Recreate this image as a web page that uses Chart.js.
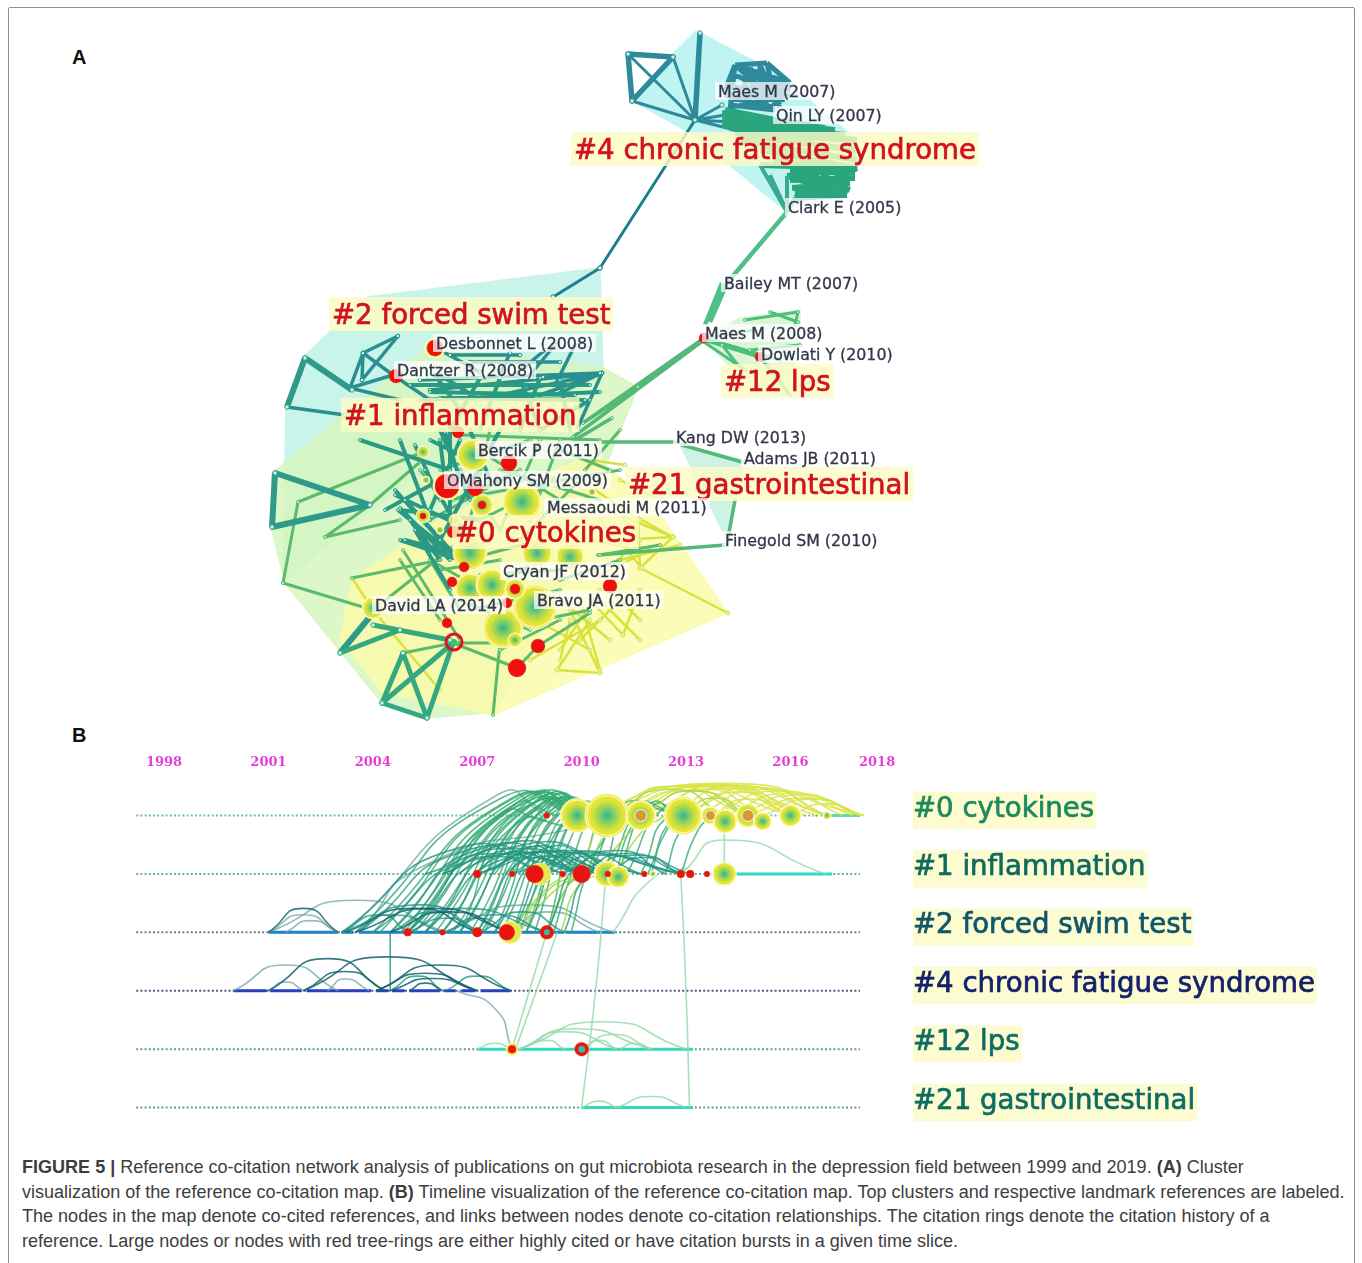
<!DOCTYPE html>
<html>
<head>
<meta charset="utf-8">
<title>Figure 5</title>
<script src="https://cdn.jsdelivr.net/npm/chart.js@4"></script>
<style>
  html, body { margin: 0; padding: 0; background: #fff; }
  body { position: relative; width: 1362px; height: 1263px; overflow: hidden; font-family: "Liberation Sans", Arial, sans-serif; }
  #frame { position: absolute; left: 8px; top: 7px; width: 1345px; height: 1270px; border: 1px solid #8f8f8f; border-radius: 2px; }
  canvas { position: absolute; filter: blur(0.45px); }
  #mapCanvas { left: 130px; top: 20px; }
  #timelineCanvas { left: 100px; top: 745px; }
  .panel { position: absolute; left: 72px; font-weight: bold; font-size: 20px; color: #111; }
  #caption { position: absolute; left: 22px; top: 1155px; width: 1325px; font-size: 18.05px; line-height: 24.7px; color: #3d3d3d; white-space: nowrap; }
</style>
</head>
<body>
<div id="frame"></div>
<div class="panel" style="top:46px">A</div>
<div class="panel" style="top:724px">B</div>
<canvas id="mapCanvas" width="1000" height="705"></canvas>
<canvas id="timelineCanvas" width="1240" height="390"></canvas>
<div id="caption"><b>FIGURE 5 |</b> Reference co-citation network analysis of publications on gut microbiota research in the depression field between 1999 and 2019. <b>(A)</b> Cluster<br>visualization of the reference co-citation map. <b>(B)</b> Timeline visualization of the reference co-citation map. Top clusters and respective landmark references are labeled.<br>The nodes in the map denote co-cited references, and links between nodes denote co-citation relationships. The citation rings denote the citation history of a<br>reference. Large nodes or nodes with red tree-rings are either highly cited or have citation bursts in a given time slice.</div>

<script>
// ---- Panel A: cluster map ----

// Cluster hulls
const hullCluster2 = [[600,268],[368,297],[303,357],[286,405],[283,582],[410,480],[603,375]];
const hullCluster1 = [[638,387],[603,368],[430,345],[272,473],[271,527],[285,583],[382,703],[427,718],[495,712],[560,600],[600,480]];
const hullCluster0 = [[352,580],[340,640],[383,692],[493,715],[728,613],[650,500],[590,455],[440,520]];
const hullCluster4 = [[696,31],[787,78],[815,105],[857,140],[857,168],[787,212],[692,134],[633,101],[672,55]];
const hullCluster12 = [[704,338],[740,318],[800,310],[800,345],[785,397],[725,362]];
const hullCluster21 = [[680,445],[745,460],[727,540]];

// Links, [x1, y1, x2, y2]
const linksCluster4Heavy = [[628,54,673,57],[628,54,632,101],[632,101,673,57],[700,33,695,120]];
const linksCluster4 = [[628,54,695,120],[673,57,695,120],[632,101,695,120],[695,120,735,130],[695,120,722,105],[695,120,725,115],[695,120,732,122]];
const linksCluster4Mass = [[735,65,767,63],[767,63,790,83],[735,65,790,83],[735,65,775,100],[767,63,775,100],[735,65,725,90],[725,90,775,100],[725,90,790,83],
  [750,75,790,90],[740,105,790,95],[730,105,775,110],[770,110,790,83],[750,68,780,105],[735,130,730,95],[745,70,745,105],[760,66,760,108],
  [740,70,785,85],[735,75,780,95],[728,85,785,100],[725,95,775,108],[730,100,790,88],[745,68,770,110],[760,65,780,108],[735,65,730,110],[750,105,790,83]];
const linksCluster4Green = [[722,113,810,125],[722,120,835,130],[730,128,857,140],[740,135,857,150],[735,140,857,160],[760,150,857,168],[725,110,815,128],[725,116,825,128],[722,125,845,135],[735,133,855,140],
  [787,176,857,168],[787,176,847,195],[795,198,857,168],[795,198,847,195],[800,172,850,190],[810,170,820,195],[830,170,805,197],
  [845,170,830,195],[790,180,855,178],[792,188,850,183],[760,165,855,168],[775,160,850,172],[790,172,855,172],[795,192,845,192]];
const linksClark = [[787,212,760,165],[787,212,787,176],[787,212,795,198],[787,212,770,175]];
const linksBridge = [[787,212,727,283],[727,283,710,322],[722,283,705,325]];
const linksMid = [[695,120,600,268],[600,268,553,297]];
const linksCluster12 = [[745,320,798,312],[798,312,795,325],[704,340,762,358],[704,342,745,370],[704,338,780,360],[760,357,790,395],[722,345,738,365],[704,338,755,330],[770,312,798,322],[750,350,800,345]];
const linksLongGreen = [[704,338,583,423],[704,340,573,437],[638,387,583,423],[612,418,575,440],[675,442,600,442],[682,445,742,462],[735,500,728,538],[725,545,598,555]];
const linksLeftHeavy = [[275,473,272,527],[275,473,370,505],[272,527,370,505],[305,358,287,407],[305,358,352,390],[340,653,373,613]];
const linksUpperTeal = [[287,407,345,415],[398,336,363,353],[398,336,362,380],[363,353,393,375],[363,353,362,380],[350,388,363,353],[350,388,393,375],
  [350,388,400,400],[393,375,430,400],[543,377,602,373],[560,393,602,373],[578,427,602,373],[540,395,602,373],[500,395,602,373],[430,390,602,373],
  [420,380,600,373],[555,345,530,375],[545,350,515,375],[510,353,500,375],[450,355,520,355],[440,350,480,372],[575,345,555,385],[470,362,560,362]];
const linksCoreDense = [[410,385,590,385],[430,392,575,395],[440,398,585,400],[420,400,600,392],[480,378,450,430],[500,378,480,430],[520,378,540,430],
  [540,378,520,430],[560,380,570,430],[590,400,540,430],[435,375,460,410],[440,375,480,400],
  [360,440,450,470],[450,425,450,520],[400,440,430,520],[460,440,430,510],[400,510,480,520],[398,510,460,560],[425,470,465,540],[440,430,470,500],
  [385,510,440,480],[395,495,470,530],[415,530,450,590],[405,540,480,560],[440,540,500,430],[470,430,490,480],
  [400,508,450,560],[405,500,455,555],[395,490,440,540],[440,440,445,480],[445,432,460,480],[430,440,470,460],[415,445,440,500],[400,540,460,560],[410,520,440,560]];
const linksCoreGreen = [[423,452,298,502],[420,462,370,505],[325,537,370,505],[325,537,400,520],[298,502,283,583],[283,583,373,610],[352,578,440,560],
  [373,610,455,545],[403,550,460,640],[400,560,440,620],[453,643,403,653],[453,643,500,643],[453,643,517,668],[517,668,538,646],[538,646,590,613],
  [493,715,500,643],[453,500,520,470],[500,530,460,470],[440,470,530,440],[560,450,610,470],[585,470,620,430],[470,600,540,560],[460,610,430,560],[560,580,620,560],[600,555,660,545],
  [460,435,600,440],[470,445,560,500],[490,430,470,520],[540,440,500,530],[560,440,530,520],[450,500,620,470],[500,470,600,500],[480,520,560,480],[420,470,470,540],[430,520,520,470],
  [465,560,540,540],[580,480,520,540],[480,575,560,570],[430,560,500,600],[460,600,530,630],[470,610,560,590],[540,620,590,610],[500,650,560,620],[440,570,500,560]];
const linksBottomHeavy = [[382,703,427,718],[382,703,453,643],[403,653,427,718],[403,653,382,703],[453,643,427,718],[340,653,400,630],[373,625,450,640]];
const linksYellow = [[557,670,600,673],[557,670,590,620],[600,673,570,610],[623,635,590,600],[623,635,640,590],[728,613,640,568],[640,568,673,537],
  [640,568,638,518],[638,518,673,537],[620,515,673,537],[620,540,673,537],[642,568,600,520],[595,490,640,520],[352,578,373,610],[373,610,440,690],
  [600,600,640,640],[570,620,560,660],[650,550,600,575],[590,460,625,465],[660,500,620,480],
  [545,625,590,650],[560,600,610,640],[580,640,620,600],[610,590,640,620],[530,660,600,620],[580,600,600,670],[600,590,560,650],[620,560,680,545],[590,540,640,550],[610,500,640,540],[640,520,620,560]];

// Reference nodes, with a size value
const mapNodesBig = [{x:503,y:628,r:20},{x:470,y:588,r:15},{x:492,y:585,r:16},{x:535,y:607,r:22},{x:522,y:502,r:19},{x:473,y:455,r:16},{x:482,y:505,r:11},
  {x:423,y:452,r:6},{x:373,y:608,r:11},{x:470,y:553,r:17},{x:537,y:553,r:15},{x:570,y:557,r:14},{x:423,y:516,r:7},{x:515,y:589,r:10},{x:447,y:486,r:14},
  {x:435,y:348,r:10},{x:515,y:640,r:7},{x:455,y:520,r:6},{x:440,y:490,r:4},{x:426,y:480,r:4},{x:440,y:530,r:4},{x:553,y:480,r:6},{x:592,y:492,r:4}];
const mapNodesRed = [{x:435,y:348,r:8},{x:396,y:376,r:7},{x:447,y:486,r:12},{x:475,y:488,r:8},{x:509,y:463,r:8},{x:458,y:432,r:6},{x:452,y:582,r:5},{x:464,y:567,r:5},
  {x:515,y:589,r:5},{x:507,y:603,r:5},{x:447,y:623,r:5},{x:538,y:646,r:7},{x:517,y:668,r:9},{x:610,y:586,r:7},{x:704,y:338,r:5},{x:760,y:357,r:5},{x:482,y:505,r:4},{x:423,y:516,r:3},{x:453,y:532,r:6}];
const mapNodesRing = [{x:454,y:642,r:8}];
const mapNodesRingCore = [{x:454,y:642,r:3}];

// Text labels, [text, left, middle]
const clusterLabelsA = [['#4 chronic fatigue syndrome',574,149],['#12 lps',724,381],['#21 gastrointestinal',628,484],['#0 cytokines',455,532],['#2 forced swim test',332,314],['#1 inflammation',344,415]];
const referenceLabelsA = [['Maes M (2007)',718,91],['Qin LY (2007)',776,115],['Clark E (2005)',788,207],['Bailey MT (2007)',724,283],['Maes M (2008)',705,333],['Dowlati Y (2010)',761,354],
  ['Kang DW (2013)',676,437],['Adams JB (2011)',744,458],['Bercik P (2011)',478,450],['OMahony SM (2009)',447,480],['Messaoudi M (2011)',547,507],['Finegold SM (2010)',725,540],
  ['Cryan JF (2012)',503,571],['Bravo JA (2011)',537,600],['David LA (2014)',375,605],['Desbonnet L (2008)',436,343],['Dantzer R (2008)',397,370]];

// ---- Panel B: timeline, x is the year and y the cluster row ----
const yearTicks = [1998, 2001, 2004, 2007, 2010, 2013, 2016, 2018];
const clusterRows = ['#0 cytokines', '#1 inflammation', '#2 forced swim test', '#4 chronic fatigue syndrome', '#12 lps', '#21 gastrointestinal'];
const rowColors = ['#1d8a5e', '#0f6a5e', '#0f566a', '#14216b', '#0e6d62', '#0e6d62'];

// Active spans of each cluster, [from year, to year]
const spansRow0 = [[2017, 2018]];
const spansRow1 = [[2014.1, 2017.2]];
const spansRow2 = [[2001,2003],[2003.1,2003.45],[2003.6,2004.5],[2004.5,2009.5],[2009.55,2010.95]];
const spansRow3 = [[2000,2000.95],[2001.05,2001.95],[2002.1,2003.95],[2004.1,2004.45],[2004.55,2004.92],[2005.05,2005.92],[2006.05,2006.38],[2006.55,2006.95],[2007.1,2007.95]];
const spansRow4 = [[2007,2013.2]];
const spansRow5 = [[2010,2013.2]];

// Citation arcs, [from year, from row, top year, top row, to year, to row]
const arcsDark = [[2001,3,2002.7,2.45,2004.35,3],[2002,3,2004.4,2.42,2007,3],[2002,3,2003.2,2.67,2004.35,3],[2004.1,3,2005.9,2.56,2007.95,3],[2004.1,3,2005.5,2.7,2007,3],
  [2004.5,3,2005.7,2.79,2007,3],[2005.05,3,2005.5,2.87,2006,3],[2001,2,2002,1.59,2003,2],[2003.2,2,2005.2,1.59,2007,2],[2003.5,2,2005.7,1.59,2007.95,2],[2004.5,2,2006.2,1.65,2007.95,2]];
const arcsGray = [[2000,3,2001.5,2.56,2003,3],[2002.7,3,2003.2,2.8,2003.9,3],[2001,3,2001.5,2.85,2002,3],[2001,2,2003.5,1.45,2006.1,2],[2001,2,2002,1.7,2003,2],[2001.5,2,2002.2,1.8,2003,2],
  [2003.2,2,2007.6,-0.36,2009,0],[2003.6,2,2005.5,0.85,2009.9,0.2],[2006.4,3,2007.5,3.3,2008,4],[2007.95,2,2009,1.65,2010.5,2],[2006,2,2008.5,1.53,2010.9,2]];
const arcsTeal = [[2003.1,2,2005.4,1.53,2007,2],[2003.1,2,2004.2,1.7,2005,2],[2003.5,2,2004.5,1.7,2006,2],[2004.5,2,2005.8,1.65,2007.1,2],[2005.05,2,2006.5,1.59,2009,2],[2005.05,2,2006.1,1.76,2007.1,2],
  [2006.1,2,2007,1.76,2007.95,2],[2006.1,2,2007.5,1.7,2009,2],[2007.1,2,2008.3,1.65,2009.5,2],[2006.1,3,2007,2.75,2007.95,3],[2004.5,3,2005.3,2.75,2006,3],[2004.5,2,2004.5,2.5,2004.5,3],
  [2004,2,2007,0.75,2010.7,1],[2005,2,2007.5,0.7,2010,1],[2006,2,2008,0.62,2011,1],[2007,2,2008.5,0.7,2010,1],[2007,1,2009,0.62,2011.7,1],[2006,1,2008,0.56,2011,1],
  [2007,1,2009.5,0.6,2012.85,1],[2008,1,2010,0.65,2012.85,1],[2009,1,2010.5,0.68,2012.85,1],[2009.9,1,2011.3,0.65,2012.85,1],[2005.5,2,2007.9,0.72,2010.7,1],
  [2003.1,2,2006.5,0.55,2009,1],[2003.6,2,2006.8,0.58,2009.5,1],[2004.5,2,2007.2,0.55,2010,1],[2005,2,2007.6,0.52,2010.7,1],[2005.5,2,2008,0.55,2011.7,1],[2006.5,2,2008.3,0.6,2010,1],
  [2007.1,2,2008.8,0.6,2011,1],[2007.5,2,2009,0.68,2010.7,1],[2008,2,2009.2,0.75,2010,1],[2008.4,2,2009.6,0.7,2011,1],[2009,2,2010,0.8,2011,1],[2009.5,2,2010.2,1,2011,1],
  [2007,1,2008.5,0.72,2010,1],[2008,1,2009,0.7,2010.4,1],[2008.65,1,2010,0.62,2011.7,1],[2009.45,1,2011,0.6,2012.4,1],[2010,1,2011.5,0.68,2013.1,1],[2010.7,1,2011.8,0.72,2012.85,1],[2006,1,2007.5,0.7,2009,1],[2005.5,1,2007.6,0.65,2009.5,1]];
const arcsGreen = [[2003.5,2,2007.7,-0.3,2009.9,0],[2004,2,2008,-0.3,2009.9,0],[2004.5,2,2008.2,-0.3,2010,0],[2005,2,2008.4,-0.32,2010.2,0],[2005.5,2,2008.6,-0.3,2010,0],
  [2006,2,2008.8,-0.28,2010.7,0],[2006.5,2,2009,-0.26,2010.7,0],[2007,2,2009,-0.22,2009.9,0],[2007.5,2,2009.2,-0.22,2010.4,0],[2008,2,2009.5,-0.2,2010.7,0],[2008.4,2,2009.8,-0.15,2010.7,0],
  [2008.65,2,2009.8,-0.05,2010.4,0],[2009,2,2010,0,2010.7,0],[2006,1,2008.6,-0.28,2009.9,0],[2006.5,1,2008.8,-0.26,2009.9,0],[2007,1,2009,-0.24,2010.2,0],[2007.5,1,2009.2,-0.2,2010.4,0],
  [2008,1,2009.5,-0.18,2010.7,0],[2008.5,1,2010,-0.18,2011.7,0],[2009,1,2010.2,-0.1,2011.7,0],[2009.9,1,2011,-0.15,2012.9,0],[2010.7,1,2011.9,-0.18,2012.9,0],[2011.7,1,2012.6,-0.05,2013.7,0],
  [2012.85,1,2013.3,0.3,2013.7,0],[2012,1,2012.4,0.3,2012.9,0],[2011,1,2011.3,0.35,2011.7,0],[2010.7,1,2010.9,0.4,2011,0.2],[2005,2,2008,-0.15,2009.3,0],[2004.9,2,2007.6,0,2009,0.1],
  [2006.5,2,2008,0.2,2009.9,0.2],[2008,2,2009.6,0.7,2011,1],[2009.2,2,2009.7,1,2010,0.6],[2009,2,2009.6,1.2,2010,1],
  [2006.2,1,2008.7,-0.24,2010,0],[2007.2,1,2009.1,-0.22,2010.7,0],[2007.8,1,2009.4,-0.2,2010.7,0],[2008.2,1,2009.7,-0.16,2011.2,0],[2008.8,1,2010,-0.12,2011.7,0],[2009.5,1,2010.6,-0.1,2011.7,0],
  [2010.2,1,2011.4,-0.15,2012.9,0],[2011,1,2012,-0.15,2012.9,0],[2011.3,1,2012.3,-0.1,2012.9,0],[2011.9,1,2012.7,0,2013.4,0],[2012.4,1,2012.9,0.2,2013.4,0],[2009.7,2,2010.2,0.9,2010.75,0.3],
  [2004.2,2,2008,-0.28,2010,0],[2004.8,2,2008.3,-0.28,2010.3,0],[2005.2,2,2008.5,-0.3,2010.7,0],[2005.8,2,2008.7,-0.26,2010.4,0],[2006.3,2,2008.9,-0.24,2010.7,0],[2006.8,2,2009.1,-0.2,2010.7,0],
  [2007.2,2,2009.3,-0.18,2010.7,0],[2007.7,2,2009.5,-0.12,2010.7,0],[2008.2,2,2009.7,-0.08,2010.7,0]];
const arcsPale = [[2009,2,2008.5,3,2008,4],[2009.3,2,2008.7,3,2008.1,4],[2010.7,1,2010.4,3,2010,5],[2012.85,1,2013,3,2013.1,5],[2014.1,0,2014.1,0.5,2014.1,1],
  [2008.2,4,2010.6,3.53,2013,4],[2008.2,4,2009.8,3.65,2012,4],[2008.2,4,2009.5,3.7,2011,4],[2008.2,4,2009,3.85,2009.5,4],[2010,4,2010.9,3.75,2012,4],[2010,4,2010.5,3.85,2011,4],[2011.1,4,2011.5,3.9,2012,4],
  [2007,4,2007.5,3.9,2008,4],[2010,5,2010.5,4.89,2011,5],[2011,5,2012,4.81,2013,5],[2012.85,1,2014.1,0.42,2017,1],[2010.9,2,2012,1.1,2013,0.9]];
const arcsLime = [[2009,2,2009.5,1.3,2010,1],[2009.4,2,2009.9,1.2,2010.5,1],[2010.2,1,2010.7,0.3,2011.3,0],[2010.5,1,2011.2,0.4,2012,0],[2011,1,2011.7,0.3,2012.4,0],[2010,1,2010.3,0.4,2010.5,0],
  [2007.95,2,2008.9,1.3,2009.6,1],[2008.1,2,2009,1.3,2009.9,1],[2008.2,2,2009.2,1.3,2010,1],[2010.75,0,2012.6,-0.45,2014.1,0],[2011.7,0,2013.2,-0.42,2014.75,0],[2012.9,0,2013.8,-0.3,2014.75,0]];
const arcsYellow = [[2010.2,0,2014,-0.55,2018.1,0],[2010.75,0,2014,-0.53,2017.05,0],[2011.7,0,2014,-0.46,2016,0],[2011,0,2012.5,-0.5,2014.75,0],[2012,0,2014,-0.52,2016.4,0],[2012.9,0,2015,-0.48,2017.05,0],
  [2013.7,0,2015.7,-0.42,2017.5,0],[2012.9,0,2014.5,-0.4,2016,0],[2014.1,0,2016,-0.38,2018.1,0],[2014.75,0,2016.5,-0.3,2018.1,0],[2016,0,2017,-0.2,2018.1,0],[2011,0,2013,-0.42,2015.2,0],[2013.7,0,2014.8,-0.28,2016,0],
  [2010,0,2013.5,-0.52,2016.8,0],[2010.3,0,2013,-0.5,2016,0],[2011.2,0,2013.7,-0.5,2016.4,0],[2011.5,0,2013.5,-0.45,2015.2,0],[2012.4,0,2014.5,-0.5,2017,0],[2013.3,0,2015.2,-0.45,2017.05,0],[2014.5,0,2016.2,-0.35,2017.8,0],[2015.2,0,2016.6,-0.28,2018,0]];

// Reference nodes on the timeline, with a size value
const timelineBig = [{x:2009.87,y:0,r:17},{x:2010.73,y:0,r:22},{x:2011.7,y:0,r:15},{x:2012.92,y:0,r:19},{x:2013.7,y:0,r:9},{x:2014.12,y:0.1,r:12},{x:2014.78,y:0,r:12},{x:2015.2,y:0.1,r:9},{x:2016,y:0,r:11},{x:2016.75,y:0,r:2},{x:2017.05,y:0,r:4},
  {x:2010.73,y:1,r:13},{x:2011.05,y:1.05,r:11},{x:2014.1,y:1,r:12},{x:2012.05,y:1,r:3}];
const timelineRedOuter = [{x:2008.8,y:1,r:11},{x:2007.95,y:2,r:11},{x:2008,y:4,r:6}];
const timelineRed = [{x:2009,y:0,r:3},{x:2007,y:1,r:4},{x:2008,y:1,r:3},{x:2008.65,y:1,r:9},{x:2009.45,y:1,r:3},{x:2010,y:1,r:9},{x:2010.75,y:1,r:3},{x:2011.8,y:1,r:3},{x:2012.85,y:1,r:4},{x:2013.12,y:1,r:4},{x:2013.6,y:1,r:3},
  {x:2005,y:2,r:4},{x:2006,y:2,r:3},{x:2007,y:2,r:5},{x:2007.85,y:2,r:8},{x:2009,y:2,r:7},{x:2008,y:4,r:4},{x:2010,y:4,r:7}];
const timelineCore = [{x:2009,y:2,r:3},{x:2010,y:4,r:3.5}];
const timelineOrange = [{x:2011.7,y:0,r:6},{x:2013.7,y:0,r:5},{x:2014.78,y:0,r:6}];

// Colours and widths for the groups above
const hullStyles = [[hullCluster2,'#c8f4ea'],[hullCluster1,'rgba(214,246,190,0.85)'],[hullCluster0,'rgba(250,252,170,0.85)'],[hullCluster4,'#bff4f2'],[hullCluster12,'#ddf6d8'],[hullCluster21,'#cdf3e4']];
const linkStyles = [[linksMid,'#1d7f8c',3,2.2],[linksCluster4,'#2e8a9b',3,2.2],[linksCluster4Heavy,'#2e8a9b',5.5,2.2],[linksCluster4Mass,'#2e8a9b',5,0],[linksCluster4Green,'#2aa57e',6,0],[linksClark,'#3aa98e',4,0],[linksBridge,'#4fc08a',4.5,0],[linksCluster12,'#4cc07a',3,1.5],
  [linksYellow,'#d9e23c',2.5,2],[linksLongGreen,'#55b878',3.5,1.5],[linksUpperTeal,'#2a8f90',3.5,1.8],[linksCoreGreen,'#5cba6c',3,1.5],[linksCoreDense,'#2a9a84',4,1.5],[linksLeftHeavy,'#2f9a8a',6,2.2],[linksBottomHeavy,'#35a880',5,2.2]];
const arcStyles = [[arcsYellow,'rgba(216,228,70,0.85)'],[arcsPale,'rgba(150,220,170,0.85)'],[arcsGray,'rgba(110,165,165,0.75)'],[arcsGreen,'rgba(52,170,115,0.8)'],[arcsLime,'rgba(165,215,70,0.85)'],[arcsTeal,'rgba(35,150,130,0.8)'],[arcsDark,'rgba(20,100,110,0.85)']];
const dottedColors = ['#72bfa0', '#66b49c', '#5a7f92', '#4c5a82', '#669c90', '#669c90'];
const spanColors = ['#58dfa0', '#35d8c6', '#1e84c4', '#2a3fc4', '#35d8c0', '#35d8c0'];

Chart.defaults.animation = false;
Chart.defaults.font.family = '"DejaVu Sans"';

function ringedNode(context) {
    // yellow tree rings around a green centre
    const chart = context.chart;
    const raw = context.raw;
    if (!raw) return '#e6e83c';
    const px = chart.scales.x.getPixelForValue(raw.x);
    const py = chart.scales.y.getPixelForValue(raw.y);
    if (!isFinite(px) || !isFinite(py)) return '#e6e83c';
    const g = chart.ctx.createRadialGradient(px, py, 0, px, py, raw.r);
    g.addColorStop(0, '#2fb595');
    g.addColorStop(0.35, '#8ad062');
    g.addColorStop(0.7, '#dbe436');
    g.addColorStop(0.85, '#e8e43a');
    g.addColorStop(0.9, '#fffbb0');
    g.addColorStop(0.95, '#f0e83a');
    g.addColorStop(1, '#f2ee42');
    return g;
}

function bubbles(data, background, border, borderWidth) {
    return { type: 'bubble', data, backgroundColor: background, borderColor: border, borderWidth };
}

function linkDataset(list, color, width, nodeSize) {
    const points = [];
    list.forEach(l => {
        points.push({ x: l[0], y: l[1] }, { x: l[2], y: l[3] }, { x: NaN, y: NaN });
    });
    return { type: 'line', data: points, borderColor: color, borderWidth: width, pointRadius: nodeSize, pointBackgroundColor: '#d8f5e8', pointBorderColor: color, pointBorderWidth: 1, spanGaps: false, fill: false };
}

function hullDataset(list, color) {
    return { type: 'line', data: list.concat([list[0]]).map(p => ({ x: p[0], y: p[1] })), borderColor: color, borderWidth: 1.5, backgroundColor: color, pointRadius: 0, fill: 'shape' };
}

const mapLabelPlugin = {
    id: 'mapLabels',
    afterDatasetsDraw(chart) {
        const ctx = chart.ctx;
        const draw = (list, font, color, back, pad, stroke, backNudge, nudge) => {
            ctx.font = font;
            ctx.textBaseline = 'middle';
            ctx.textAlign = 'left';
            list.forEach(l => {
                const px = chart.scales.x.getPixelForValue(l[1]);
                const py = chart.scales.y.getPixelForValue(l[2]);
                const w = ctx.measureText(l[0]).width;
                ctx.fillStyle = back;
                ctx.fillRect(px - 3, py + backNudge - pad, w + 6, pad * 2);
                ctx.fillStyle = color;
                ctx.strokeStyle = color;
                ctx.lineWidth = stroke;
                ctx.strokeText(l[0], px, py + nudge);
                ctx.fillText(l[0], px, py + nudge);
            });
        };
        draw(clusterLabelsA, '27.6px "DejaVu Sans"', '#d2121f', 'rgba(253,251,196,0.82)', 17, 0.7, 0, 3);
        draw(referenceLabelsA, '15.8px "DejaVu Sans"', '#33364a', 'rgba(255,255,255,0.72)', 9, 0.3, 0, 1.5);
    }
};

new Chart(document.getElementById('mapCanvas'), {
    data: {
        // Chart.js paints the first dataset last, so the list runs from back to front and is reversed
        datasets: [
            ...hullStyles.map(s => hullDataset(s[0], s[1])),
            ...linkStyles.map(s => linkDataset(s[0], s[1], s[2], s[3])),
            bubbles(mapNodesBig, ringedNode, 'rgba(255,255,255,0.8)', 1),
            bubbles(mapNodesRed, '#f00f0f', 'rgba(200,60,20,0.6)', 0.5),
            bubbles(mapNodesRing, 'rgba(0,0,0,0)', '#e0141c', 3),
            bubbles(mapNodesRingCore, '#3fc06a', '#3fc06a', 0)
        ].reverse()
    },
    options: {
        responsive: false,
        events: [],
        layout: { padding: 0, autoPadding: false },
        plugins: { legend: { display: false }, tooltip: { enabled: false } },
        scales: {
            x: { type: 'linear', min: 130, max: 1130, display: false },
            y: { type: 'linear', min: 20, max: 725, reverse: true, display: false }
        }
    },
    plugins: [mapLabelPlugin]
});

function rowDatasets() {
    const sets = [];
    // dotted baseline for each cluster
    clusterRows.forEach((name, row) => {
        sets.push({ type: 'line', data: [{ x: 1997.2, y: row }, { x: 2018, y: row }], borderColor: dottedColors[row], borderWidth: 2, borderDash: [2, 2.2], pointRadius: 0 });
    });
    [spansRow0, spansRow1, spansRow2, spansRow3, spansRow4, spansRow5].forEach((spans, row) => {
        const points = [];
        spans.forEach(s => points.push({ x: s[0], y: row }, { x: s[1], y: row }, { x: NaN, y: NaN }));
        sets.push({ type: 'line', data: points, borderColor: spanColors[row], borderWidth: 3, pointRadius: 0, spanGaps: false });
    });
    return sets;
}

function arcDatasets() {
    const sets = [];
    arcStyles.forEach(s => {
        s[0].forEach(a => {
            sets.push({ type: 'line', data: [{ x: a[0], y: a[1] }, { x: a[2], y: a[3] }, { x: a[4], y: a[5] }], borderColor: s[1], borderWidth: 1.6, pointRadius: 0, tension: 0.62 });
        });
    });
    return sets;
}

new Chart(document.getElementById('timelineCanvas'), {
    data: {
        datasets: [
            ...rowDatasets(),
            ...arcDatasets(),
            bubbles(timelineBig, ringedNode, 'rgba(255,255,255,0.85)', 1),
            bubbles(timelineRedOuter, '#e8e84a', '#f4f08a', 1),
            bubbles(timelineOrange, '#d89a30', '#fff', 1),
            bubbles(timelineRed, '#e8140f', 'rgba(220,120,40,0.5)', 0.5),
            bubbles(timelineCore, '#3fb8a0', '#3fb8a0', 0)
        ].reverse()
    },
    options: {
        responsive: false,
        events: [],
        layout: { padding: 0, autoPadding: false },
        plugins: { legend: { display: false }, tooltip: { enabled: false } },
        scales: {
            x: {
                type: 'linear',
                position: 'top',
                min: 1996.16,
                max: 2018.2,
                grid: { display: false },
                border: { display: false },
                afterFit(scale) { scale.height = 27; },
                // the last label sits past the end of the axis in the original, hence 2018.49
                afterBuildTicks(scale) { scale.ticks = yearTicks.map(v => ({ value: v === 2018 ? 2018.49 : v })); },
                ticks: {
                    maxRotation: 0,
                    autoSkip: false,
                    padding: -6,
                    callback: v => String(Math.floor(v)),
                    color: '#e63fd6',
                    font: { family: '"DejaVu Serif"', size: 13, weight: 'bold' }
                }
            },
            y: {
                type: 'linear',
                position: 'right',
                reverse: true,
                min: -0.745,
                max: 5.47,
                grid: { display: false },
                border: { display: false },
                afterFit(scale) {
                    scale.width = 473;
                    scale.paddingTop = 0;
                    scale.paddingBottom = 0;
                },
                // row names sit a little above their row in the original
                afterBuildTicks(scale) { scale.ticks = clusterRows.map((name, row) => ({ value: row - 0.105 })); },
                ticks: {
                    autoSkip: false,
                    padding: 38,
                    callback: (v, i) => clusterRows[i],
                    color: c => rowColors[c.index],
                    textStrokeColor: c => rowColors[c.index],
                    textStrokeWidth: 0.7,
                    font: { size: 27.6 },
                    showLabelBackdrop: true,
                    backdropColor: '#fdfbd0',
                    backdropPadding: { top: 1, bottom: 3, left: 0, right: 2 }
                }
            }
        }
    }
});
</script>
</body>
</html>
